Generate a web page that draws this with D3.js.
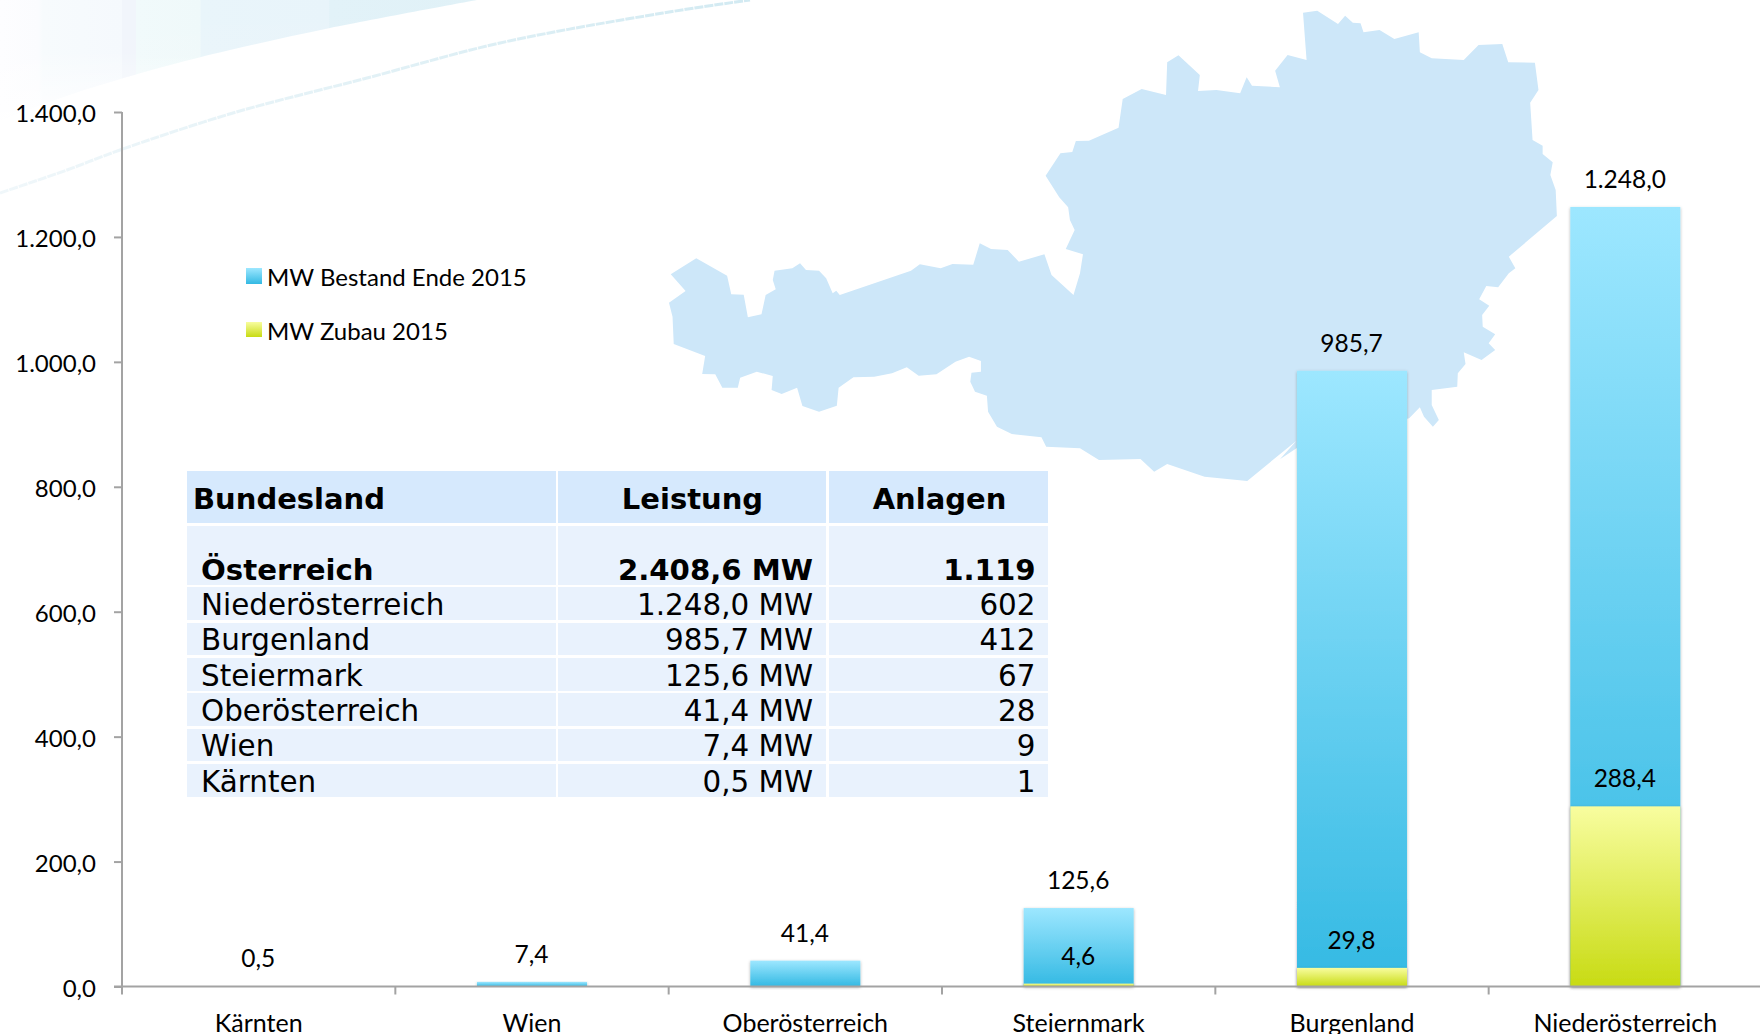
<!DOCTYPE html>
<html><head><meta charset="utf-8">
<script src="https://cdnjs.cloudflare.com/ajax/libs/d3/7.8.5/d3.min.js"></script>
<style>html,body{margin:0;padding:0;background:#fff;overflow:hidden}svg{display:block}</style>
</head><body><svg id="c" width="1760" height="1034"></svg>
<script>
const categories=["Kärnten","Wien","Oberösterreich","Steiernmark","Burgenland","Niederösterreich"];
const bestand=[0.5,7.4,41.4,125.6,985.7,1248.0];
const zubau=[null,null,null,4.6,29.8,288.4];
const yTicks=[0,200,400,600,800,1000,1200,1400];
const seriesNames=["MW Bestand Ende 2015","MW Zubau 2015"];
const tableHead=["Bundesland","Leistung","Anlagen"];
const tableLand=["Österreich","Niederösterreich","Burgenland","Steiermark","Oberösterreich","Wien","Kärnten"];
const tableMW=["2.408,6 MW","1.248,0 MW","985,7 MW","125,6 MW","41,4 MW","7,4 MW","0,5 MW"];
const tableAnl=["1.119","602","412","67","28","9","1"];
const mapOutline=[[35,823],[78,775],[130,827],[137,883],[158,884],[165,952],[188,943],[195,885],[212,868],[207,840],[210,812],[240,805],[253,790],[263,810],[285,812],[297,835],[308,880],[314,872],[320,885],[440,812],[455,793],[490,805],[510,792],[545,794],[556,730],[575,747],[603,750],[622,785],[665,763],[677,825],[714,885],[725,820],[730,763],[701,747],[716,690],[708,660],[705,622],[690,592],[667,527],[692,460],[712,456],[718,423],[740,422],[790,383],[797,297],[829,267],[870,285],[872,187],[891,166],[927,225],[924,273],[955,270],[995,280],[1006,232],[1015,257],[1062,262],[1054,212],[1075,165],[1107,180],[1101,38],[1125,32],[1160,72],[1172,47],[1185,68],[1198,70],[1203,97],[1230,90],[1255,117],[1296,97],[1298,157],[1318,175],[1372,180],[1397,135],[1437,132],[1447,187],[1492,188],[1498,270],[1484,308],[1488,420],[1505,437],[1505,462],[1522,487],[1518,525],[1527,570],[1529,648],[1448,770],[1459,805],[1448,820],[1430,862],[1410,858],[1398,898],[1415,917],[1403,945],[1404,980],[1425,1003],[1414,1030],[1425,1050],[1402,1080],[1372,1057],[1375,1092],[1362,1120],[1361,1160],[1318,1170],[1318,1215],[1330,1260],[1320,1280],[1305,1250],[1298,1222],[1280,1255],[1090,1345],[1062,1378],[1090,1322],[1007,1443],[935,1430],[872,1392],[850,1415],[827,1377],[757,1380],[725,1345],[668,1340],[660,1312],[610,1302],[585,1280],[570,1235],[568,1187],[548,1175],[540,1145],[542,1118],[558,1115],[558,1083],[538,1070],[515,1085],[483,1123],[453,1127],[433,1102],[408,1120],[378,1130],[343,1132],[318,1163],[315,1217],[285,1235],[257,1218],[248,1163],[222,1182],[205,1170],[207,1128],[180,1115],[152,1133],[148,1163],[122,1163],[110,1123],[88,1122],[93,1068],[40,1032],[38,950],[32,908],[60,873]];
const swooshEdge=[[0,120],[60,98],[100,85],[170,65],[230,50],[330,28],[477,0]];
const swooshLine=[[0,193],[67,170],[120,150],[233,113],[367,78],[500,43],[663,13],[750,0]];

const svg=d3.select("#c");
const defs=svg.append("defs");
function grad(id,stops,x2,y2){
  const g=defs.append("linearGradient").attr("id",id).attr("x1",0).attr("y1",0).attr("x2",x2).attr("y2",y2);
  stops.forEach(s=>g.append("stop").attr("offset",s[0]).attr("stop-color",s[1]).attr("stop-opacity",s[2]===undefined?1:s[2]));
}
grad("blue",[[0,"#9de7ff"],[1,"#33b9e3"]],0,1);
grad("yellow",[[0,"#f8fd9f"],[1,"#c8db13"]],0,1);
grad("sw",[[0,"#fdfdff"],[0.08,"#fbfcfe"],[0.09,"#f7fbfd"],[0.255,"#f5f9fd"],[0.256,"#f1f5fb"],[0.285,"#f1f5fb"],[0.286,"#f1fafb"],[0.42,"#eff9fa"],[0.421,"#e9f5fa"],[0.69,"#e8f4fa"],[0.691,"#e2f2f8"],[1,"#e0f1f7"]],1,0);
grad("swfade",[[0,"#fff",0],[0.45,"#fff",0.05],[1,"#fff",0.85]],0,1);
grad("swl",[[0,"#f0f7fa"],[0.5,"#e2f1f6"],[1,"#d2eaf2"]],1,0);
const sh=defs.append("filter").attr("id","shadow").attr("x","-10%").attr("y","-10%").attr("width","120%").attr("height","120%");
sh.append("feDropShadow").attr("dx",0).attr("dy",1).attr("stdDeviation",1.8).attr("flood-color","#000").attr("flood-opacity",.3);

const curve=d3.line().curve(d3.curveCatmullRom);
svg.append("path").attr("d",curve(swooshEdge)+"L0,0Z").attr("fill","url(#sw)");
svg.append("path").attr("d",curve(swooshEdge)+"L0,0Z").attr("fill","url(#swfade)");
svg.append("path").attr("d",curve(swooshLine)).attr("fill","none").attr("stroke","url(#swl)").attr("stroke-width",3).attr("stroke-dasharray","9 1");

const mx=d3.scaleLinear().domain([0,1568]).range([650,1580]);
const my=d3.scaleLinear().domain([0,1500]).range([0,500]);
svg.append("path").attr("d",d3.line().x(d=>mx(d[0])).y(d=>my(d[1]))(mapOutline)+"Z").attr("fill","#cde7f9");

const x=d3.scaleBand().domain(categories).range([122,1762]).paddingInner(0.5975).paddingOuter(0.29875);
const y=d3.scaleLinear().domain([0,1400]).range([986.5,112]);
const F="Lato, Carlito, sans-serif";
const loc=d3.formatLocale({decimal:",",thousands:".",grouping:[3],currency:["","€"]});
const fmt=loc.format(",.1f");

const g=svg.append("g");
g.selectAll(".b").data(categories).join("rect").attr("class","b").attr("x",d=>x(d)).attr("width",x.bandwidth())
 .attr("y",(d,i)=>y(bestand[i])).attr("height",(d,i)=>y(0)-y(bestand[i])).attr("fill","url(#blue)").attr("filter","url(#shadow)");
g.selectAll(".z").data(categories.filter((d,i)=>zubau[i]!==null)).join("rect").attr("class","z").attr("x",d=>x(d)).attr("width",x.bandwidth())
 .attr("y",d=>y(zubau[categories.indexOf(d)])).attr("height",d=>y(0)-y(zubau[categories.indexOf(d)])).attr("fill","url(#yellow)").attr("filter","url(#shadow)");

const yAxis=d3.axisLeft(y).tickValues(yTicks).tickSize(8).tickPadding(18).tickFormat(fmt);
const ya=svg.append("g").attr("transform","translate(122,0)").call(yAxis);
const xa=svg.append("g").attr("transform","translate(0,986.5)").call(d3.axisBottom(x).tickSize(0).tickPadding(28));
[ya,xa].forEach(a=>{a.selectAll("path,line").attr("stroke","#a3a3a3").attr("stroke-width",2);
 a.selectAll("text").attr("font-family",F).attr("font-size",24).attr("fill","#000");});
xa.selectAll("text").attr("font-size",25);
ya.selectAll("text").attr("dy","0.41em");
ya.select("path").attr("d","M0,112V986.5");
xa.select("path").attr("d","M114,0H1762");
const step=x.step();
xa.selectAll(".bt").data(d3.range(0,7)).join("line").attr("class","bt").attr("x1",i=>122+i*step).attr("x2",i=>122+i*step).attr("y1",0).attr("y2",8).attr("stroke","#a3a3a3").attr("stroke-width",2);

const lab=svg.append("g").attr("font-family",F).attr("font-size",24.5).attr("text-anchor","middle").attr("fill","#000");
lab.selectAll(".l1").data(categories).join("text").attr("class","l1").attr("x",d=>x(d)+x.bandwidth()/2-0.5).attr("y",(d,i)=>y(bestand[i])-19).text((d,i)=>fmt(bestand[i]));
lab.selectAll(".l2").data(categories.filter((d,i)=>zubau[i]!==null)).join("text").attr("class","l2").attr("x",d=>x(d)+x.bandwidth()/2-0.5).attr("y",d=>y(zubau[categories.indexOf(d)])-19).text(d=>fmt(zubau[categories.indexOf(d)]));

const leg=svg.append("g").attr("font-family",F).attr("font-size",24).attr("fill","#000");
["blue","yellow"].forEach((c,i)=>{
 const top=i?322:268;
 leg.append("rect").attr("x",246).attr("y",top).attr("width",16).attr("height",i?15:16).attr("fill",`url(#${c})`);
 leg.append("text").attr("x",267).attr("y",i?340:286).text(seriesNames[i]);
});

const T="'DejaVu Sans', Verdana, sans-serif";
const cols=[[187,556],[558,826],[829,1048]];
const rowsY=[[526,585],[587,620],[623,655],[658,691],[693,726],[729,761],[764,797]];
const t=svg.append("g").attr("font-family",T).attr("fill","#000");
cols.forEach((c,i)=>{
 t.append("rect").attr("x",c[0]).attr("y",471).attr("width",c[1]-c[0]).attr("height",52).attr("fill","#d6e9fd");
 rowsY.forEach(r=>t.append("rect").attr("x",c[0]).attr("y",r[0]).attr("width",c[1]-c[0]).attr("height",r[1]-r[0]).attr("fill","#e9f2fd"));
});
const hs=t.append("g").attr("font-weight","bold").attr("font-size",29);
hs.append("text").attr("x",193).attr("y",509).text(tableHead[0]);
hs.append("text").attr("x",692.5).attr("y",509).attr("text-anchor","middle").text(tableHead[1]);
hs.append("text").attr("x",939.5).attr("y",509).attr("text-anchor","middle").text(tableHead[2]);
rowsY.forEach((r,i)=>{
 const row=t.append("g").attr("font-size",i?29.4:29.2).attr("font-weight",i?"normal":"bold");
 const by=r[1]-5;
 row.append("text").attr("x",201).attr("y",by).text(tableLand[i]);
 row.append("text").attr("x",813).attr("y",by).attr("text-anchor","end").text(tableMW[i]);
 row.append("text").attr("x",1035.5).attr("y",by).attr("text-anchor","end").text(tableAnl[i]);
});
</script></body></html>
